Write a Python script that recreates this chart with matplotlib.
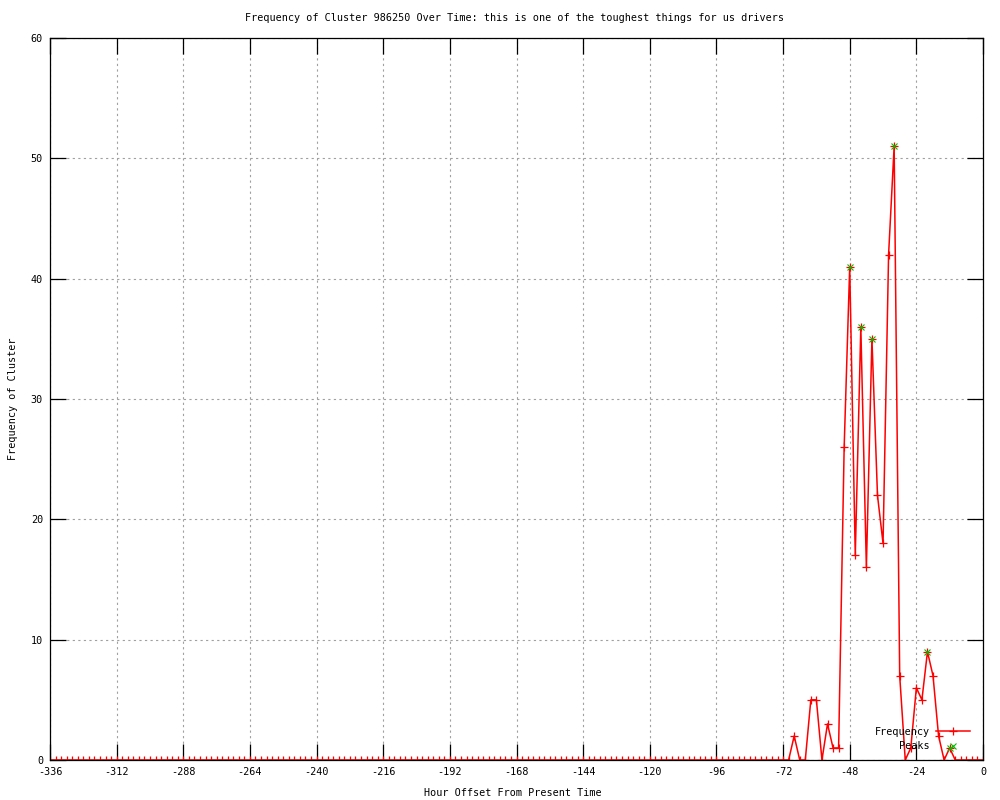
import matplotlib
matplotlib.use("Agg")
from matplotlib import pyplot as plt

# every 2 hours from -336 to 0
hours = list(range(-336, 2, 2))

# non-zero stretch of the series, -70 .. -10
burst_start = -70
burst_freq = [0, 2, 0, 0, 5, 5, 0, 3, 1, 1, 26, 41, 17, 36, 16, 35, 22, 18,
              42, 51, 7, 0, 1, 6, 5, 9, 7, 2, 0, 1, 0]

peak_hours = [-48, -44, -40, -32, -20, -12]
peak_freq = [41, 36, 35, 51, 9, 1]

x_ticks = list(range(-336, 1, 24))
y_ticks = list(range(0, 61, 10))

title = "Frequency of Cluster 986250 Over Time: this is one of the toughest things for us drivers"

freq = []
for h in hours:
    i = (h - burst_start) // 2
    freq.append(burst_freq[i] if 0 <= i < len(burst_freq) else 0)

plt.rcParams["font.family"] = ["DejaVu Sans Mono"]
plt.rcParams["font.size"] = 7.3
plt.rcParams["axes.unicode_minus"] = False

fig = plt.figure(figsize=(10, 8), dpi=100)
ax = fig.add_axes([0.05, 0.05, 0.933, 0.9025])

red = "#ff0000"
green = "#00c000"

ax.plot(hours, freq, color=red, linewidth=1.1, marker="+", markersize=5.5,
        markeredgewidth=0.9, zorder=3)
ax.plot(peak_hours, peak_freq, linestyle="none", color=green, marker="x",
        markersize=5, markeredgewidth=0.8, zorder=4)

ax.set_xlim(-336, 0)
ax.set_ylim(0, 60)
ax.set_xticks(x_ticks)
ax.set_yticks(y_ticks)
ax.tick_params(direction="in", length=11.5, width=0.9, color="black",
               top=True, right=True, pad=5)
ax.grid(True, color="#a0a0a0", linestyle=(0, (2, 3)), linewidth=0.8)
for s in ax.spines.values():
    s.set_linewidth(0.9)
    s.set_color("black")
    s.set_zorder(5)

fig.text(0.5145, 1 - 18 / 800, title, ha="center", va="center")
fig.text(0.513, 1 - 793 / 800, "Hour Offset From Present Time", ha="center", va="center")
fig.text(0.013, 1 - 399 / 800, "Frequency of Cluster", ha="center", va="center",
         rotation=90)

# gnuplot-like key, bottom right
tr = ax.transAxes
ax.text(0.943, 0.0385, "Frequency", transform=tr, ha="right", va="center", zorder=6)
ax.text(0.943, 0.0190, "Peaks", transform=tr, ha="right", va="center", zorder=6)
ax.plot([0.950, 0.986], [0.0400, 0.0400], transform=tr, color=red, linewidth=1.1,
        clip_on=False, zorder=6)
ax.plot([0.968], [0.0400], transform=tr, color=red, marker="+", markersize=5.5,
        markeredgewidth=0.9, clip_on=False, zorder=6)
ax.plot([0.968], [0.0198], transform=tr, color=green, marker="x", markersize=5,
        markeredgewidth=0.8, linestyle="none", clip_on=False, zorder=6)

fig.savefig("out.png", dpi=100)
